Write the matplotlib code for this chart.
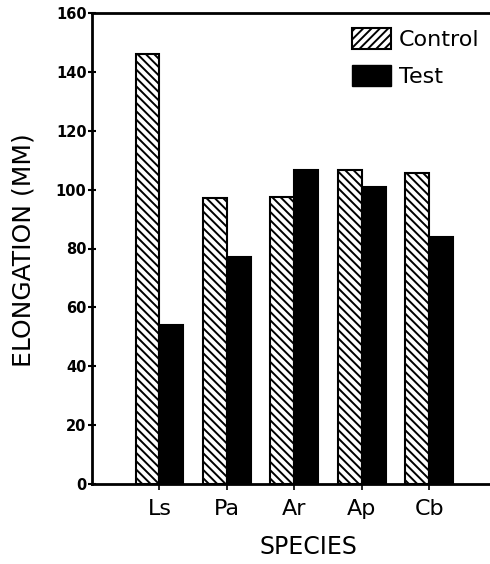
import matplotlib
matplotlib.use("Agg")
import matplotlib.pyplot as plt
from matplotlib.patches import Patch
import numpy as np

species = ["Ls", "Pa", "Ar", "Ap", "Cb"]
control = [146, 97, 97.5, 106.5, 105.5]
test = [54, 77, 106.5, 101, 84]
yticks = [0, 20, 40, 60, 80, 100, 120, 140, 160]

plt.rcParams['hatch.linewidth'] = 1.4
plt.rcParams['font.family'] = ['DejaVu Sans']

fig = plt.figure(figsize=(4.9, 5.64), dpi=100)
ax = fig.add_axes([92/490, 80/564, 398/490, 471/564])

x = np.arange(len(species))
w = 0.355
ax.bar(x - w/2, control, w, color='white', edgecolor='black', hatch='\\\\\\\\', linewidth=1.5)
ax.bar(x + w/2, test, w, color='black', edgecolor='black', linewidth=1.5)

ax.set_xlim(-1.0, 4.9)
ax.set_ylim(0, 160)
ax.set_yticks(yticks)
ax.set_yticklabels([str(v) for v in yticks], fontsize=10.5, fontweight='bold')
ax.tick_params(axis='y', direction='inout', length=6, width=1.5, pad=1)
ax.set_xticks(x)
ax.set_xticklabels(species, fontsize=16)
ax.tick_params(axis='x', direction='out', length=4, width=1.2, pad=7)

for s in ['left', 'bottom', 'top']:
    ax.spines[s].set_linewidth(2)
ax.spines['right'].set_visible(False)

fig.text(308/490, 1 - 547/564, "SPECIES", ha='center', va='center', fontsize=17)
fig.text(24/490, 1 - 250/564, "ELONGATION (MM)", ha='center', va='center', rotation=90, fontsize=18)

handles = [Patch(facecolor='white', edgecolor='black', hatch='////', linewidth=1.5),
           Patch(facecolor='black', edgecolor='black')]
leg = ax.legend(handles, ["Control", "Test"], loc='upper left',
                bbox_to_anchor=((352 - 92) / 398, (484 - 28) / 471),
                frameon=False, fontsize=16, handlelength=1.75, handleheight=1.05,
                handletextpad=0.35, labelspacing=0.7, borderpad=0, borderaxespad=0)

fig.savefig("out.png", dpi=100)
